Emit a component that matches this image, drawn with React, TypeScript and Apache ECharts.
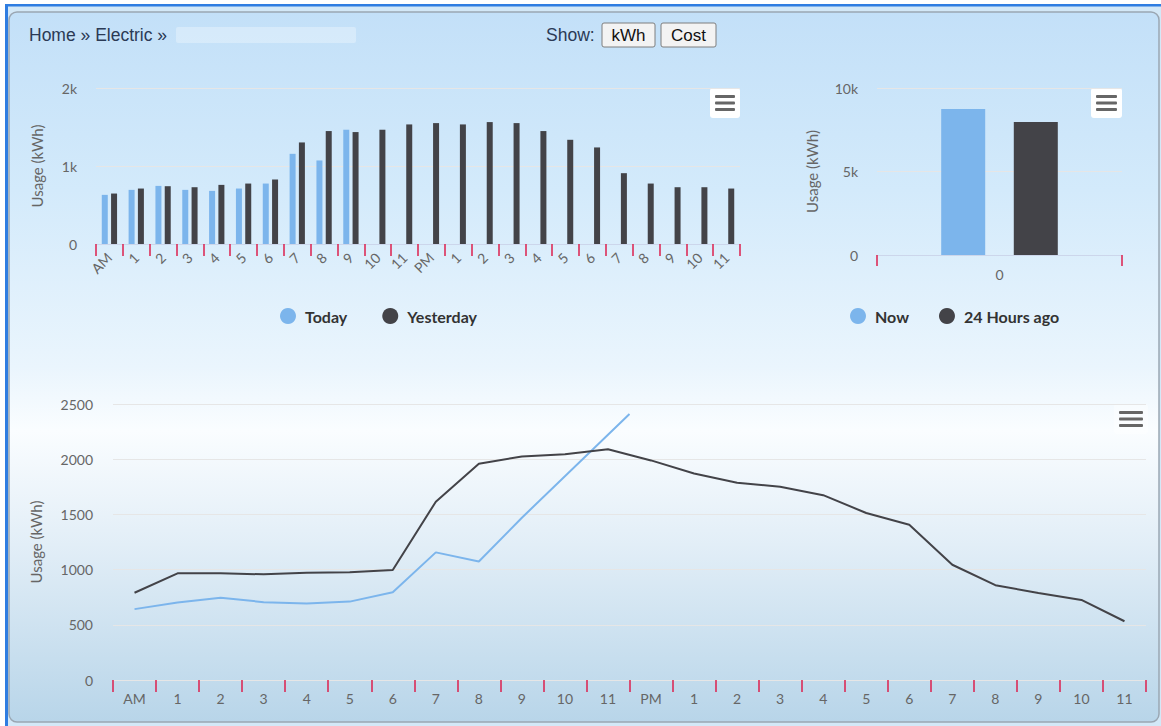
import React, { useEffect, useRef } from 'react';
import * as echarts from 'echarts';

// ---------- data ----------
const hourLabels = ['AM', '1', '2', '3', '4', '5', '6', '7', '8', '9', '10', '11', 'PM', '1', '2', '3', '4', '5', '6', '7', '8', '9', '10', '11'];

const todayBars = [630, 694, 745, 694, 681, 711, 775, 1156, 1071, 1465];
const yesterdayBars = [647, 711, 741, 728, 758, 775, 827, 1302, 1448, 1435, 1465, 1533, 1550, 1533, 1563, 1550, 1448, 1336, 1238, 908, 775, 728, 728, 711];

const totalCategories = ['0'];
const nowTotal = [8740];
const dayAgoTotal = [7960];

const todayLine = [642, 701, 746, 705, 692, 710, 794, 1156, 1073, 1470];
const todayLatestHour = 11.5;
const todayLatestValue = 2410;
const yesterdayLine = [790, 966, 966, 957, 972, 975, 996, 1615, 1959, 2025, 2045, 2090, 1989, 1870, 1787, 1751, 1674, 1513, 1406, 1044, 859, 788, 725, 532];

// ---------- styles ----------
const FONT = 'Lato, "Open Sans", sans-serif';
const HEAD_FONT = '"Liberation Sans", Arial, sans-serif';
const LABEL = '#666666';
const RED = '#dc1f4e';
const BLUE = '#7cb5ec';
const DARK = '#434348';
const kFmt = (v: number) => (v === 0 ? '0' : v / 1000 + 'k');
const plainFmt = (v: number) => String(v);

function menuIcon(x: number, y: number, w: number, h: number, bgOpacity: number) {
  const lx = x + 5;
  const lw = w - 10;
  const gap = 6.5;
  const cy = y + h / 2;
  return {
    type: 'group',
    children: [
      { type: 'rect', shape: { x, y, width: w, height: h, r: 3 }, style: { fill: '#ffffff', opacity: bgOpacity } },
      { type: 'rect', shape: { x: lx, y: cy - gap - 1.5, width: lw, height: 3, r: 1 }, style: { fill: '#666' } },
      { type: 'rect', shape: { x: lx, y: cy - 1.5, width: lw, height: 3, r: 1 }, style: { fill: '#666' } },
      { type: 'rect', shape: { x: lx, y: cy + gap - 1.5, width: lw, height: 3, r: 1 }, style: { fill: '#666' } },
    ],
  };
}

const axisLabelBase = { color: LABEL, fontFamily: FONT, fontSize: 14 };
const nameStyle = { color: LABEL, fontFamily: FONT, fontSize: 15 };
const splitLine = { lineStyle: { color: '#e6e6e6', width: 1 } };
const redTick = (length: number) => ({ show: true, interval: 0, alignWithLabel: false, length, lineStyle: { color: RED, width: 1.5 } });

const option: any = {
  animation: false,
  backgroundColor: '#ffffff',
  graphic: {
    elements: [
      { type: 'rect', z: -20, shape: { x: 5, y: 4, width: 1156, height: 722 }, style: { fill: '#d3e8f7' } },
      {
        type: 'rect', z: -19,
        shape: { x: 9, y: 12, width: 1150, height: 710, r: 8 },
        style: {
          fill: {
            type: 'linear', x: 0, y: 0, x2: 0, y2: 1,
            colorStops: [
              { offset: 0, color: '#c3e0f8' },
              { offset: 0.25, color: '#d3eafb' },
              { offset: 0.5, color: '#eaf5fd' },
              { offset: 0.59, color: '#fafdff' },
              { offset: 0.75, color: '#e2eef7' },
              { offset: 1, color: '#b8d5e9' },
            ],
          },
          stroke: '#9aa6b2', lineWidth: 1.5,
        },
      },
      { type: 'rect', z: -18, shape: { x: 5, y: 4, width: 3, height: 722 }, style: { fill: '#2f7de1' } },
      { type: 'rect', z: -18, shape: { x: 5, y: 4, width: 1156, height: 2.5 }, style: { fill: '#2f7de1' } },
      { type: 'rect', z: -17, shape: { x: 176, y: 27, width: 180, height: 16, r: 2 }, style: { fill: '#ffffff', opacity: 0.3 } },
      { type: 'text', style: { text: 'Home » Electric »', x: 29, y: 35, fill: '#2b3a55', font: `17.5px ${HEAD_FONT}`, textVerticalAlign: 'middle' } },
      { type: 'text', style: { text: 'Show:', x: 546, y: 35, fill: '#2b3a55', font: `17.5px ${HEAD_FONT}`, textVerticalAlign: 'middle' } },
      { type: 'rect', shape: { x: 602, y: 23, width: 53, height: 24, r: 2 }, style: { fill: '#f3f3f3', stroke: '#7f7f7f', lineWidth: 1 } },
      { type: 'text', style: { text: 'kWh', x: 628.5, y: 35, fill: '#111', font: `17px ${HEAD_FONT}`, textAlign: 'center', textVerticalAlign: 'middle' } },
      { type: 'rect', shape: { x: 661, y: 23, width: 55, height: 24, r: 2 }, style: { fill: '#f3f3f3', stroke: '#7f7f7f', lineWidth: 1 } },
      { type: 'text', style: { text: 'Cost', x: 688.5, y: 35, fill: '#111', font: `17px ${HEAD_FONT}`, textAlign: 'center', textVerticalAlign: 'middle' } },
      menuIcon(710, 88, 30, 30, 1),
      menuIcon(1091, 88, 31, 30, 1),
      menuIcon(1114, 404, 34, 30, 0.4),
    ],
  },
  grid: [
    { left: 96, top: 88, width: 644, height: 156 },
    { left: 877, top: 88, width: 245, height: 167 },
    { left: 113, top: 404, width: 1033, height: 276 },
  ],
  legend: [
    {
      data: ['Today', 'Yesterday'], left: 280, top: 308, padding: 0, icon: 'circle',
      itemWidth: 16, itemHeight: 16, itemGap: 35,
      textStyle: { fontFamily: FONT, fontSize: 16, fontWeight: 'bold', color: '#333', padding: [0, 0, 0, 4] },
    },
    {
      data: ['Now', '24 Hours ago'], left: 850, top: 308, padding: 0, icon: 'circle',
      itemWidth: 16, itemHeight: 16, itemGap: 30,
      textStyle: { fontFamily: FONT, fontSize: 16, fontWeight: 'bold', color: '#333', padding: [0, 0, 0, 4] },
    },
  ],
  xAxis: [
    {
      type: 'category', gridIndex: 0, data: hourLabels,
      axisLine: { lineStyle: { color: '#ccd6eb' } },
      axisTick: redTick(12),
      axisLabel: { ...axisLabelBase, fontSize: 14, interval: 0, rotate: 45, margin: 11 },
    },
    {
      type: 'category', gridIndex: 1, data: totalCategories,
      axisLine: { show: true, lineStyle: { color: '#ccd6eb' } },
      axisTick: redTick(11),
      axisLabel: { ...axisLabelBase, interval: 0, margin: 12 },
    },
    {
      type: 'category', gridIndex: 2, data: hourLabels,
      axisLine: { show: true, lineStyle: { color: 'rgba(0,0,0,0)' } },
      axisTick: redTick(12),
      axisLabel: { ...axisLabelBase, interval: 0, margin: 11 },
    },
    { type: 'value', gridIndex: 2, min: 0, max: 24, show: false },
  ],
  yAxis: [
    {
      type: 'value', gridIndex: 0, min: 0, max: 2000, interval: 1000,
      axisLabel: { ...axisLabelBase, formatter: kFmt, margin: 19 },
      name: 'Usage (kWh)', nameLocation: 'middle', nameGap: 52, nameTextStyle: nameStyle,
      splitLine, axisLine: { show: false }, axisTick: { show: false },
    },
    {
      type: 'value', gridIndex: 1, min: 0, max: 10000, interval: 5000,
      axisLabel: { ...axisLabelBase, formatter: kFmt, margin: 19 },
      name: 'Usage (kWh)', nameLocation: 'middle', nameGap: 58, nameTextStyle: nameStyle,
      splitLine, axisLine: { show: false }, axisTick: { show: false },
    },
    {
      type: 'value', gridIndex: 2, min: 0, max: 2500, interval: 500,
      axisLabel: { ...axisLabelBase, formatter: plainFmt, margin: 20 },
      name: 'Usage (kWh)', nameLocation: 'middle', nameGap: 70, nameTextStyle: nameStyle,
      splitLine, axisLine: { show: false }, axisTick: { show: false },
    },
  ],
  series: [
    { name: 'Today', type: 'bar', xAxisIndex: 0, yAxisIndex: 0, data: todayBars, itemStyle: { color: BLUE }, barWidth: 6, barGap: '55%' },
    { name: 'Yesterday', type: 'bar', xAxisIndex: 0, yAxisIndex: 0, data: yesterdayBars, itemStyle: { color: DARK }, barWidth: 6, barGap: '55%' },
    { name: 'Now', type: 'bar', xAxisIndex: 1, yAxisIndex: 1, data: nowTotal, itemStyle: { color: BLUE }, barWidth: 44, barGap: '65%' },
    { name: '24 Hours ago', type: 'bar', xAxisIndex: 1, yAxisIndex: 1, data: dayAgoTotal, itemStyle: { color: DARK }, barWidth: 44, barGap: '65%' },
    {
      name: 'Today', type: 'line', xAxisIndex: 3, yAxisIndex: 2,
      data: todayLine.map((v, i) => [i + 0.5, v]).concat([[todayLatestHour + 0.5, todayLatestValue]]),
      showSymbol: false, symbol: 'none', lineStyle: { color: BLUE, width: 2 }, itemStyle: { color: BLUE },
    },
    {
      name: 'Yesterday', type: 'line', xAxisIndex: 3, yAxisIndex: 2,
      data: yesterdayLine.map((v, i) => [i + 0.5, v]),
      showSymbol: false, symbol: 'none', lineStyle: { color: DARK, width: 2 }, itemStyle: { color: DARK },
    },
  ],
};

export default function App() {
  const ref = useRef<HTMLDivElement>(null);
  useEffect(() => {
    const chart = echarts.init(ref.current as HTMLDivElement, null, { renderer: 'svg' });
    chart.setOption(option);
    return () => chart.dispose();
  }, []);
  return <div ref={ref} style={{ position: 'fixed', left: 0, top: 0, width: 1161, height: 726 }} />;
}
